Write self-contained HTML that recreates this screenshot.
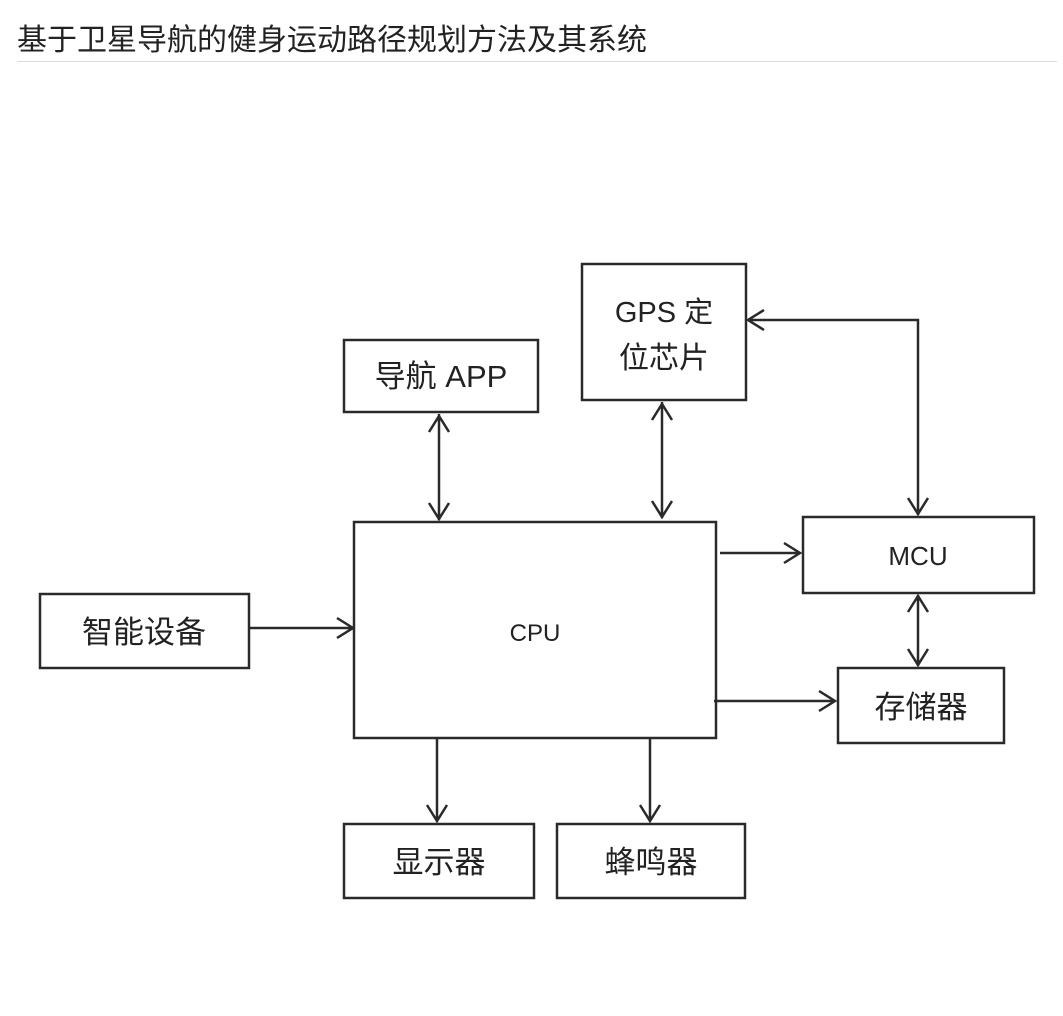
<!DOCTYPE html>
<html><head><meta charset="utf-8"><style>
body{margin:0;background:#fff;width:1063px;height:1016px;overflow:hidden;font-family:"Liberation Sans","Noto Sans CJK SC",sans-serif}
.t{position:absolute;left:17px;top:15px;font-size:30px;color:#222;font-family:"Liberation Sans","Noto Sans CJK SC",sans-serif}
.hr{position:absolute;left:17px;top:61px;width:1040px;height:1px;background:#ddd}
</style></head><body>
<div class="t">基于卫星导航的健身运动路径规划方法及其系统</div>
<div class="hr"></div>
<svg width="1063" height="1016" style="position:absolute;left:0;top:0" font-family="Liberation Sans, Noto Sans CJK SC, sans-serif">
<g fill="none" stroke="#2a2a2a" stroke-width="2.5">
<rect x="344" y="340" width="194" height="72"/>
<rect x="582" y="264" width="164" height="136"/>
<rect x="354" y="522" width="362" height="216"/>
<rect x="803" y="517" width="231" height="76"/>
<rect x="838" y="668" width="166" height="75"/>
<rect x="40" y="594" width="209" height="74"/>
<rect x="344" y="824" width="190" height="74"/>
<rect x="557" y="824" width="188" height="74"/>
<path d="M439 414V520M429 432L439 416L449 432M429 503L439 519L449 503"/>
<path d="M662 402V518M652 420L662 404L672 420M652 501L662 517L672 501"/>
<path d="M748 320H918V515M764 310L748 320L764 330M908 498L918 514L928 498"/>
<path d="M918 595V666M908 612L918 596L928 612M908 649L918 665L928 649"/>
<path d="M720 553H800M784 543L800 553L784 563"/>
<path d="M714 701H835M819 691L835 701L819 711"/>
<path d="M249 628H353M337 618L353 628L337 638"/>
<path d="M437 738V821M427 805L437 821L447 805"/>
<path d="M650 738V821M640 805L650 821L660 805"/>
</g>
<g fill="#222" font-size="31" text-anchor="middle">
<text x="441" y="387">导航 APP</text>
<text x="664" y="322" font-size="29">GPS 定</text>
<text x="664" y="368" font-size="30">位芯片</text>
<text x="535" y="641" font-size="24">CPU</text>
<text x="918" y="565" font-size="26">MCU</text>
<text x="921" y="718">存储器</text>
<text x="144" y="643">智能设备</text>
<text x="439" y="873">显示器</text>
<text x="651" y="873">蜂鸣器</text>
</g>
</svg>
</body></html>
